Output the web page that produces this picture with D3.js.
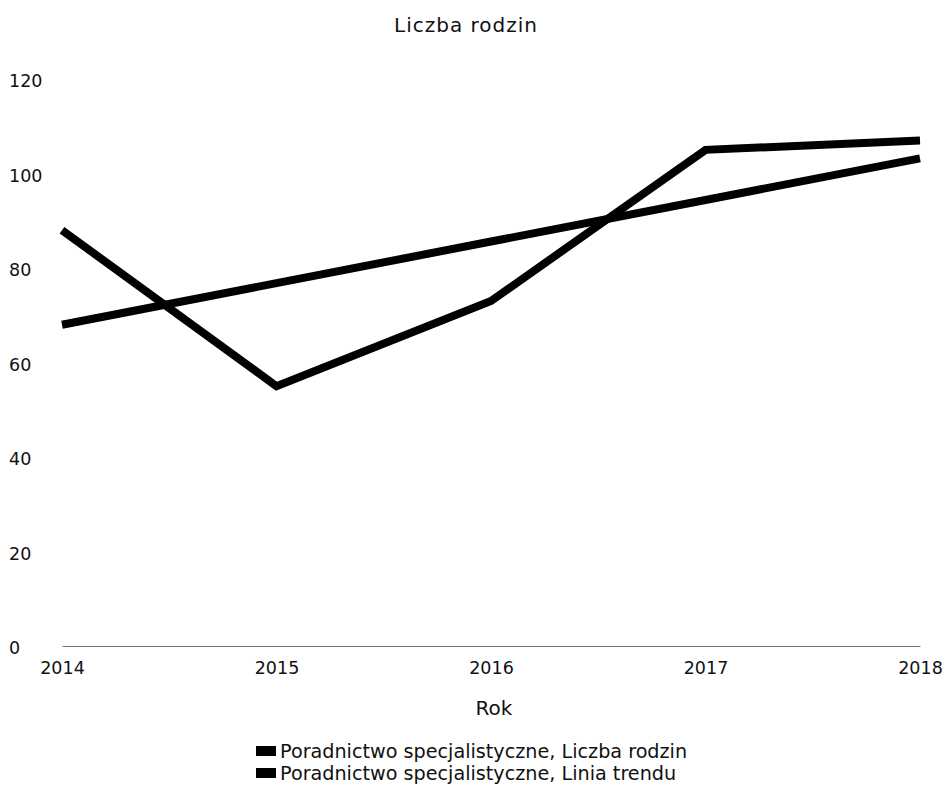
<!DOCTYPE html>
<html><head><meta charset="utf-8">
<script src="https://cdn.jsdelivr.net/npm/d3@7"></script>
<style>
body{margin:0;background:#fff;}
text{font-family:"DejaVu Sans",sans-serif;fill:#111;}
</style></head>
<body><svg id="c" width="951" height="786"></svg>
<script>
const years = [2014, 2015, 2016, 2017, 2018];
const liczbaRodzin = [88, 55, 73, 105, 107];
const liniaTrendu = [68, 76.8, 85.6, 94.4, 103.2];
const yTicks = [0, 20, 40, 60, 80, 100, 120];
const seriesNames = ["Poradnictwo specjalistyczne, Liczba rodzin", "Poradnictwo specjalistyczne, Linia trendu"];

const svg = d3.select("#c");
const x = d3.scalePoint().domain(years).range([62, 920]);
const y = d3.scaleLinear().domain([0, 120]).range([646, 79]);

svg.append("text").attr("x", 466).attr("y", 32).attr("text-anchor", "middle")
  .style("font-size", "20px").style("letter-spacing", "1px").text("Liczba rodzin");

// y tick labels
svg.append("g").selectAll("text").data(yTicks).join("text")
  .attr("x", 9).attr("y", d => y(d) + 2).attr("dy", "0.35em")
  .style("font-size", "17.5px").text(d => d);

// x axis
const xa = svg.append("g").attr("transform", `translate(0,${y(0)})`)
  .call(d3.axisBottom(x).tickSize(0).tickPadding(16).tickFormat(d3.format("d")));
xa.select(".domain").attr("stroke", "#777").attr("stroke-width", 1);
xa.selectAll("text").style("font-size", "17.5px").attr("fill", "#111").style("font-family", "'DejaVu Sans',sans-serif");

svg.append("text").attr("x", 494).attr("y", 715).attr("text-anchor", "middle")
  .style("font-size", "20px").text("Rok");

const line = d3.line().x((d, i) => x(years[i])).y(d => y(d));
[liczbaRodzin, liniaTrendu].forEach(s => {
  svg.append("path").datum(s).attr("d", line).attr("fill", "none")
    .attr("stroke", "#000").attr("stroke-width", 8).attr("stroke-linejoin", "miter");
});

const lg = svg.append("g").selectAll("g").data(seriesNames).join("g")
  .attr("transform", (d, i) => `translate(256,${751 + i * 22})`);
lg.append("rect").attr("x", 0).attr("y", -5).attr("width", 20).attr("height", 10).attr("fill", "#000");
lg.append("text").attr("x", 24).attr("y", 0).attr("dy", "0.36em").style("font-size", "19.2px").text(d => d);
</script></body></html>
